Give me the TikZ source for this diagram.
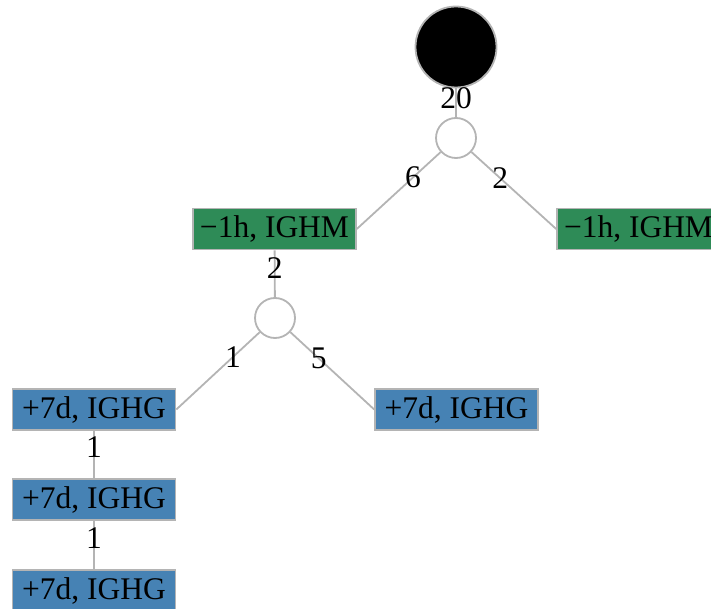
\documentclass[tikz,border=0pt]{standalone}
\usepackage{fontspec}
\setmainfont{Liberation Serif}
\usetikzlibrary{positioning}
\definecolor{nodegreen}{HTML}{2E8B57}
\definecolor{nodeblue}{HTML}{4682B4}
\definecolor{edgegray}{HTML}{B4B4B4}
\tikzset{
    gbox/.style={draw=edgegray, line width=1.6pt, fill=nodegreen, minimum width=163pt, minimum height=41pt, inner sep=0pt},
    bbox/.style={gbox, fill=nodeblue},
    split/.style={circle, draw=edgegray, line width=1.8pt, fill=white, minimum size=40pt, inner sep=0pt},
    root/.style={circle, draw=edgegray, line width=1.8pt, fill=black, minimum size=81pt, inner sep=0pt},
    link/.style={draw=edgegray, line width=1.8pt},
    cnt/.style={inner sep=0pt, text=black}
}

\begin{document}
\begin{tikzpicture}[x=1pt, y=-1pt, font=\fontsize{31.5}{34}\selectfont]
\useasboundingbox (0,0) rectangle (711,609);
\clip (0,0) rectangle (711,609);
    %tree nodes
    \node[root] (root) at (456,47) {};
    \node[split] (s1) at (456,138) {};
    \node[gbox] (g1) at (274.5,229) {−1h, IGHM};
    \node[gbox] (g2) at (638.5,229) {−1h, IGHM};
    \node[split] (s2) at (275,318) {};
    \node[bbox] (b1) at (94,409.5) {+7d, IGHG};
    \node[bbox] (b2) at (456.5,409.5) {+7d, IGHG};
    \node[bbox] (b3) at (94,499.5) {+7d, IGHG};
    \node[bbox] (b4) at (94,590.5) {+7d, IGHG};
    %links with counts
    \draw[link] (root) -- node[cnt, pos=0.35] {20} (s1);
    \draw[link] (s1) -- node[cnt, pos=0.33] {6} (g1.east);
    \draw[link] (s1) -- node[cnt, pos=0.34] {2} (g2.west);
    \draw[link] (g1) -- node[cnt, pos=0.37] {2} (s2);
    \draw[link] (s2) -- node[cnt, pos=0.32] {1} (b1.east);
    \draw[link] (s2) -- node[cnt, pos=0.34] {5} (b2.west);
    \foreach \from/\to in {b1/b3, b3/b4}
    {\draw[link] (\from) -- node[cnt, pos=0.35] {1} (\to);}
\end{tikzpicture}
\end{document}
